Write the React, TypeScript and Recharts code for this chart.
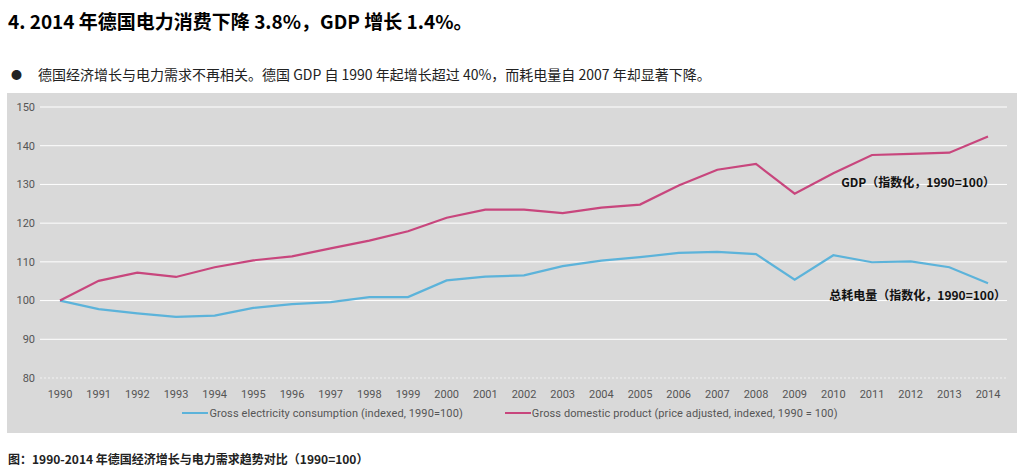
import React from 'react';
import {
  LineChart,
  Line,
  XAxis,
  YAxis,
  CartesianGrid,
  Legend,
  ReferenceDot,
} from 'recharts';

// values (index, 1990 = 100)
const years = [
  '1990', '1991', '1992', '1993', '1994', '1995', '1996', '1997', '1998', '1999',
  '2000', '2001', '2002', '2003', '2004', '2005', '2006', '2007', '2008', '2009',
  '2010', '2011', '2012', '2013', '2014',
];
const electricity = [
  100, 97.8, 96.7, 95.8, 96.1, 98.1, 99.1, 99.6, 100.9, 100.9,
  105.2, 106.2, 106.5, 108.9, 110.3, 111.2, 112.3, 112.6, 112.0, 105.4,
  111.7, 109.9, 110.1, 108.6, 104.5,
];
const gdp = [
  100, 105.1, 107.2, 106.1, 108.6, 110.4, 111.4, 113.5, 115.5, 117.9,
  121.4, 123.5, 123.5, 122.6, 124.0, 124.8, 129.7, 133.8, 135.3, 127.6,
  132.9, 137.6, 137.9, 138.2, 142.4,
];
const yTicks = [80, 90, 100, 110, 120, 130, 140, 150];
const gridValues = [90, 100, 110, 120, 130, 140, 150];

const legendItems = [
  { label: 'Gross electricity consumption (indexed, 1990=100)', color: '#5cb3da' },
  { label: 'Gross domestic product (price adjusted, indexed, 1990 = 100)', color: '#c8467d' },
];

const data = years.map((year, i) => ({ year, electricity: electricity[i], gdp: gdp[i] }));

const cjk = '"Noto Sans CJK SC", "Noto Sans", sans-serif';
const axisFont = 'Roboto, "Noto Sans", sans-serif';

function ChartLegend() {
  return (
    <div style={{ height: 31, display: 'flex', justifyContent: 'center', gap: 42, paddingTop: 3, paddingLeft: 6, boxSizing: 'border-box' }}>
      {legendItems.map((item) => (
        <div key={item.label} style={{ display: 'flex', alignItems: 'center', height: 16 }}>
          <span style={{ display: 'inline-block', width: 26, height: 2, background: item.color }} />
          <span style={{ fontFamily: axisFont, fontSize: 11, letterSpacing: 0.1, color: '#555', marginLeft: 1 }}>{item.label}</span>
        </div>
      ))}
    </div>
  );
}

function endLabel(text: string, dx: number) {
  return (props: any) => {
    const { viewBox } = props;
    return (
      <text
        x={viewBox.x + dx}
        y={viewBox.y}
        textAnchor="end"
        dominantBaseline="middle"
        fontFamily={cjk}
        fontSize={12}
        fontWeight={700}
        fill="#111"
      >
        {text}
      </text>
    );
  };
}

export default function App() {
  return (
    <div style={{ position: 'absolute', left: 0, top: 0, width: 1024, height: 468, background: '#fff', overflow: 'hidden' }}>
      <div style={{ position: 'absolute', left: 8, top: 7, fontFamily: cjk, fontSize: 19, fontWeight: 700, color: '#000', whiteSpace: 'nowrap' }}>
        4. 2014 年德国电力消费下降 3.8%，GDP 增长 1.4%。
      </div>
      <div style={{ position: 'absolute', left: 11, top: 64, fontFamily: cjk, fontSize: 14, color: '#222', whiteSpace: 'nowrap' }}>
        <span style={{ display: 'inline-block', width: 27, fontSize: 11, verticalAlign: 1 }}>●</span>
        德国经济增长与电力需求不再相关。德国 GDP 自 1990 年起增长超过 40%，而耗电量自 2007 年却显著下降。
      </div>
      <div style={{ position: 'absolute', left: 7, top: 93, width: 1010, height: 340, background: '#d9d9d9' }}>
        <LineChart width={1010} height={340} data={data} margin={{ top: 14, right: 10, bottom: 0, left: 0 }}>
          <CartesianGrid horizontal vertical={false} stroke="#ffffff" strokeWidth={1} horizontalValues={gridValues} />
          <XAxis
            dataKey="year"
            padding={{ left: 20, right: 19 }}
            height={24}
            tickLine={false}
            tickMargin={6}
            axisLine={{ stroke: '#f2f2f2', strokeDasharray: '2 2' }}
            tick={{ fontFamily: axisFont, fontSize: 11, fill: '#555' }}
            interval={0}
          />
          <YAxis
            domain={[80, 150]}
            ticks={yTicks}
            width={33}
            tickSize={0}
            tickMargin={5}
            axisLine={false}
            tickLine={false}
            tick={{ fontFamily: axisFont, fontSize: 11, fill: '#555' }}
          />
          <Legend verticalAlign="bottom" content={() => <ChartLegend />} />
          <Line
            type="linear"
            dataKey="electricity"
            stroke="#5cb3da"
            strokeWidth={2.2}
            dot={false}
            isAnimationActive={false}
          />
          <Line
            type="linear"
            dataKey="gdp"
            stroke="#c8467d"
            strokeWidth={2.2}
            dot={false}
            isAnimationActive={false}
          />
          <ReferenceDot x="2014" y={130.2} r={0} stroke="none" label={endLabel('GDP（指数化，1990=100）', 7)} />
          <ReferenceDot x="2014" y={101} r={0} stroke="none" label={endLabel('总耗电量（指数化，1990=100）', 18)} />
        </LineChart>
      </div>
      <div style={{ position: 'absolute', left: 8, top: 450, fontFamily: cjk, fontSize: 12, fontWeight: 700, color: '#222', whiteSpace: 'nowrap' }}>
        图：1990-2014 年德国经济增长与电力需求趋势对比（1990=100）
      </div>
    </div>
  );
}
